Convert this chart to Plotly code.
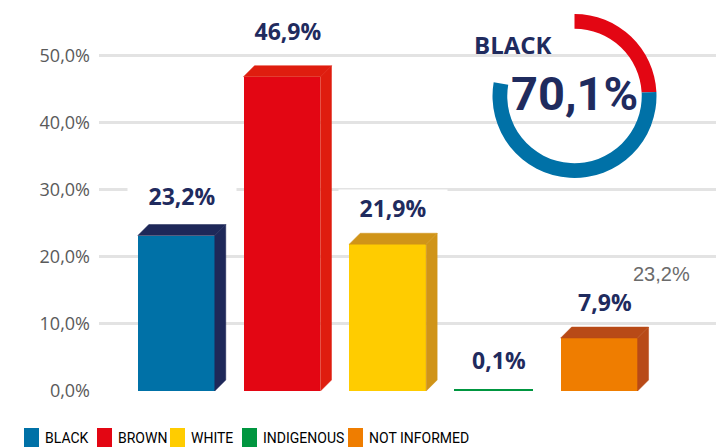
import plotly.graph_objects as go

# ---------------- data ----------------
categories = ["BLACK", "BROWN", "WHITE", "INDIGENOUS", "NOT INFORMED"]
values = [23.2, 46.9, 21.9, 0.1, 7.9]
tick_values = [0, 10, 20, 30, 40, 50]
tick_labels = ["0,0%", "10,0%", "20,0%", "30,0%", "40,0%", "50,0%"]
donut_labels = ["red part", "blue part", "gap"]
donut_values = [24.2, 53.5, 22.3]
donut_title = "BLACK"
donut_total = "70,1%"
side_note = "23,2%"

# ---------------- styles ----------------
front_colors = ["#0071A7", "#E30613", "#FFCC00", "#009640", "#EF7D00"]
face_colors = ["#1E2859", "#DF1D0F", "#D09418", "#009640", "#B84A17"]
donut_colors = ["#E30613", "#0071A7", "rgba(0,0,0,0)"]
navy = "#1F2B5E"
label_shift_px = [40, 46, 36, 30, 36]       # label centre above bar front top
legend_left_px = [24, 97, 170, 242, 348]     # legend key left edges (screen px)

PAGE_OFF = 8                     # browser body margin
FIG_W, FIG_H = 724 - PAGE_OFF, 447 - PAGE_OFF
# plot area in screen pixels
L, R_EDGE, T, B_EDGE = 99, 720, 9, 391
X_RANGE = [-0.7313, 5.1438]
Y_RANGE = [0, 57]
BAR_W = 0.728
DEPTH_PX = 11

px_per_x = (R_EDGE - L) / (X_RANGE[1] - X_RANGE[0])
px_per_y = (B_EDGE - T) / (Y_RANGE[1] - Y_RANGE[0])
dx = DEPTH_PX / px_per_x
dy = DEPTH_PX / px_per_y


def px_x(p):
    return (p - L) / (R_EDGE - L)


def px_y(p):
    return (B_EDGE - p) / (B_EDGE - T)


xs = list(range(len(categories)))
fig = go.Figure()

fig.add_trace(go.Bar(
    x=xs, y=values, width=BAR_W,
    marker=dict(color=front_colors,
                line=dict(color=front_colors, width=[0, 0, 0, 2, 0])),
    hoverinfo="skip", showlegend=False,
))

# 3D faces (top + right side)
for i, v in enumerate(values):
    if v < 1:
        continue
    xl, xr = xs[i] - BAR_W / 2, xs[i] + BAR_W / 2
    c = face_colors[i]
    fig.add_trace(go.Scatter(
        x=[xl, xl + dx, xr + dx, xr, xl], y=[v, v + dy, v + dy, v, v],
        fill="toself", fillcolor=c, mode="lines", line=dict(color=c, width=0.5),
        hoverinfo="skip", showlegend=False))
    fig.add_trace(go.Scatter(
        x=[xr, xr + dx, xr + dx, xr, xr], y=[0, dy, v + dy, v, 0],
        fill="toself", fillcolor=c, mode="lines", line=dict(color=c, width=0.5),
        hoverinfo="skip", showlegend=False))

# donut
cx, cy, r_out = 574.5, 96, 82
fig.add_trace(go.Pie(
    values=donut_values, labels=donut_labels,
    marker=dict(colors=donut_colors, line=dict(width=0)),
    hole=0.82, sort=False, direction="clockwise", rotation=0,
    textinfo="none", hoverinfo="skip", showlegend=False,
    domain=dict(x=[px_x(cx - r_out), px_x(cx + r_out)],
                y=[px_y(cy + r_out), px_y(cy - r_out)]),
))

shapes = [
    dict(type="rect", xref="paper", yref="paper", layer="between",
         x0=px_x(655), x1=px_x(730), y0=px_y(400), y1=px_y(0),
         fillcolor="white", line=dict(width=0)),
    dict(type="circle", xref="paper", yref="paper", layer="between",
         x0=px_x(cx - 85), x1=px_x(cx + 85), y0=px_y(cy + 85), y1=px_y(cy - 85),
         fillcolor="white", line=dict(width=0)),
    dict(type="rect", xref="paper", yref="paper", layer="between",
         x0=px_x(432), x1=px_x(600), y0=px_y(62), y1=px_y(48),
         fillcolor="white", line=dict(width=0)),
]

annotations = []
for i, v in enumerate(values):
    annotations.append(dict(
        x=xs[i] + dx / 2, y=v, xref="x", yref="y", yshift=label_shift_px[i],
        text=f"{v:.1f}%".replace(".", ","), showarrow=False,
        xanchor="center", yanchor="middle", bgcolor="white", width=104, borderpad=2,
        font=dict(family="Open Sans", size=23, color=navy, weight=700)))

annotations.append(dict(
    x=px_x(513), y=px_y(44), xref="paper", yref="paper", text=donut_title,
    showarrow=False, xanchor="center", yanchor="middle",
    font=dict(family="Open Sans", size=24, color=navy, weight=700)))
annotations.append(dict(
    x=px_x(574), y=px_y(93), xref="paper", yref="paper", text=donut_total,
    showarrow=False, xanchor="center", yanchor="middle",
    font=dict(family="Roboto", size=47, color=navy, weight=700)))
annotations.append(dict(
    x=px_x(661), y=px_y(274), xref="paper", yref="paper", text=side_note,
    showarrow=False, xanchor="center", yanchor="middle",
    font=dict(family="Liberation Sans, Arial, sans-serif", size=20, color="#6b6b6b")))

# legend
for i, name in enumerate(categories):
    x0 = legend_left_px[i]
    shapes.append(dict(type="rect", xref="paper", yref="paper", layer="above",
                       x0=px_x(x0), x1=px_x(x0 + 15), y0=px_y(452), y1=px_y(428),
                       fillcolor=front_colors[i], line=dict(width=0)))
    annotations.append(dict(
        x=px_x(x0 + 19), y=px_y(438), xref="paper", yref="paper", text=name,
        showarrow=False, xanchor="left", yanchor="middle",
        font=dict(family="Roboto", size=14, color="#000000")))

fig.update_layout(
    width=FIG_W, height=FIG_H,
    margin=dict(l=L - PAGE_OFF, r=FIG_W - (R_EDGE - PAGE_OFF),
                t=T - PAGE_OFF, b=FIG_H - (B_EDGE - PAGE_OFF)),
    paper_bgcolor="white", plot_bgcolor="white",
    xaxis=dict(range=X_RANGE, showgrid=False, zeroline=False, showticklabels=False,
               showline=False, fixedrange=True),
    yaxis=dict(range=Y_RANGE, tickvals=tick_values, ticktext=tick_labels,
               showgrid=True, gridcolor="#E3E3E3", gridwidth=2.5, zeroline=False,
               showline=False, ticks="", ticklabelstandoff=8,
               tickfont=dict(family="Open Sans", size=18, color="#5a5a5a")),
    shapes=shapes, annotations=annotations, bargap=0,
)

fig.write_html("out.html")
